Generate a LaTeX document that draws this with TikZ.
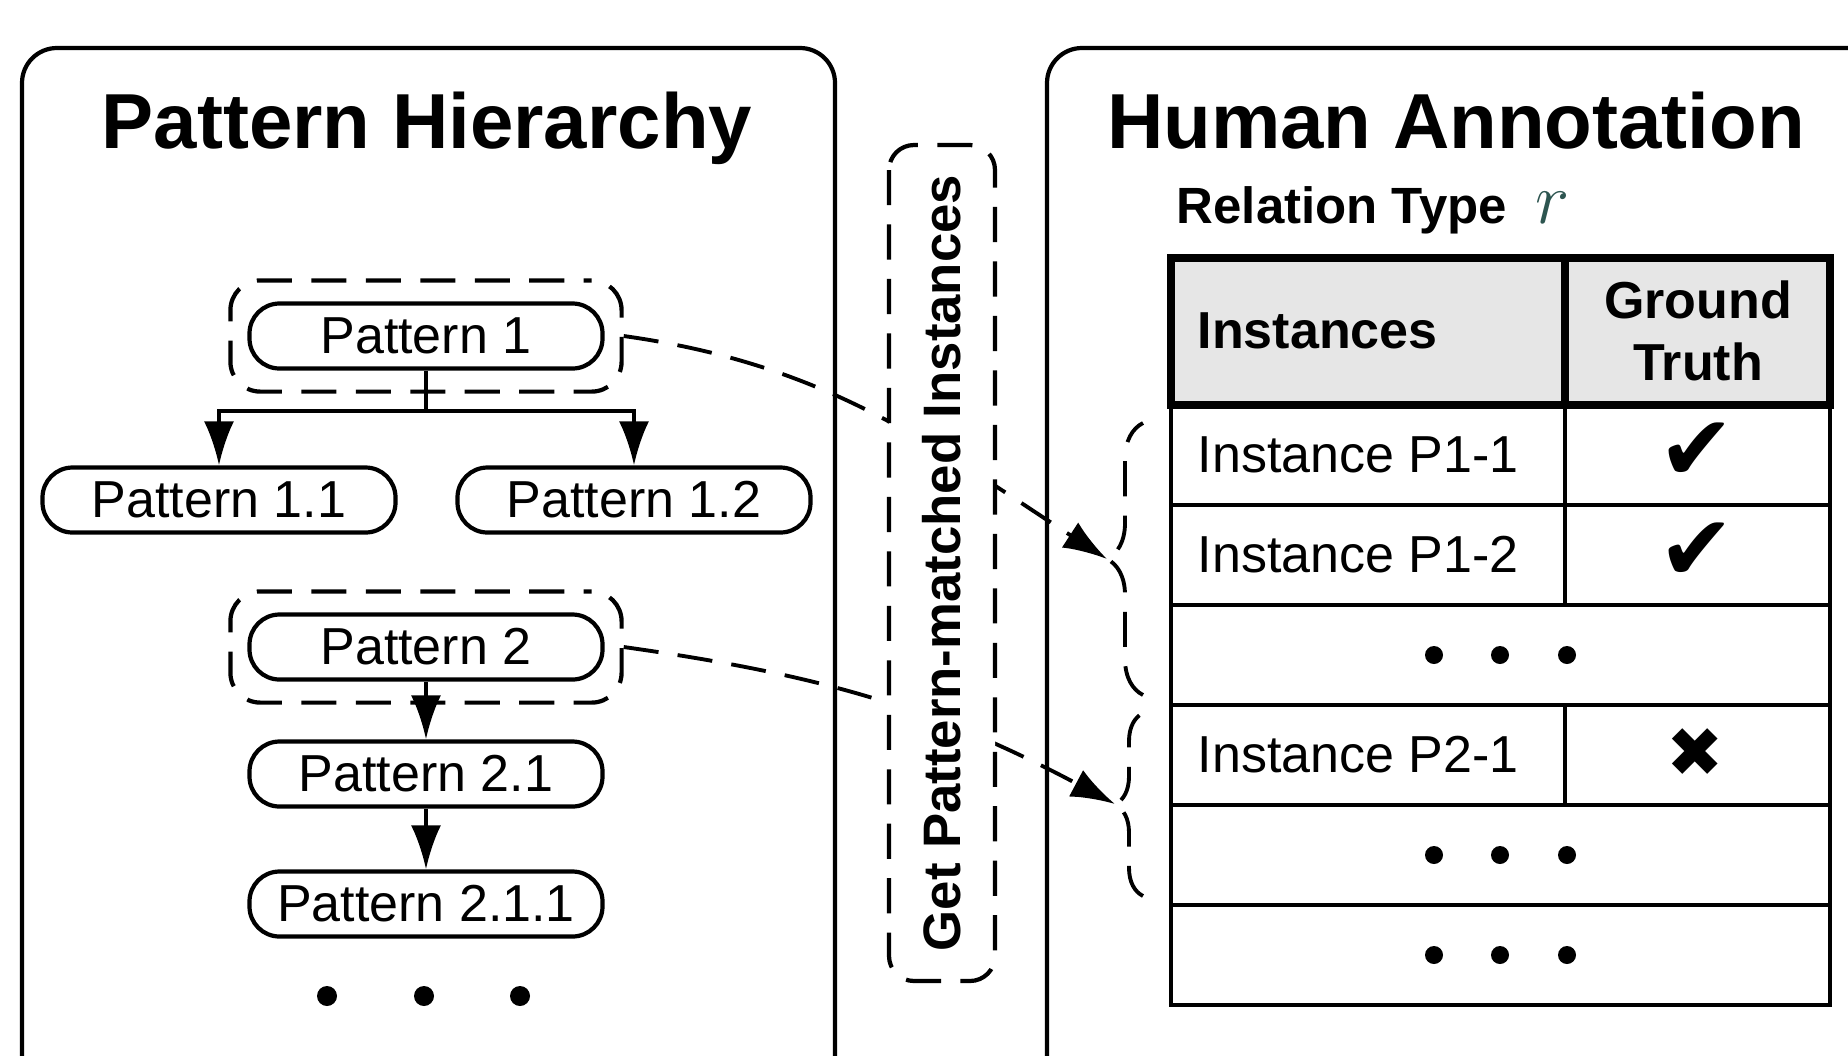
\documentclass[tikz,border=0pt]{standalone}
\usepackage{fontspec}
\setmainfont{Liberation Sans}
\newfontfamily\dejavu{DejaVu Sans}
\usetikzlibrary{arrows.meta,fit,decorations.pathreplacing}

\definecolor{headgray}{RGB}{230,230,230}
\definecolor{typeteal}{RGB}{45,85,80}

\tikzset{
    panel/.style={draw, line width=1.2pt, rounded corners=0.35cm},
    title/.style={anchor=base, font=\fontsize{22.2}{26}\selectfont\bfseries},
    patnode/.style={draw, line width=1.2pt, rounded corners=0.3cm, minimum width=3.53cm,
        minimum height=0.65cm, inner sep=0pt, font=\fontsize{14.8}{17}\selectfont},
    patgroup/.style={draw, dash pattern=on 10pt off 5.5pt, dash phase=7.75pt, line width=1.2pt,
        rounded corners=0.3cm, inner xsep=0.17cm, inner ysep=0.21cm},
    tree/.style={line width=1.1pt},
    treearrow/.style={line width=1.1pt, -{Latex[length=0.44cm,width=0.3cm]}},
    link/.style={dash pattern=on 10pt off 5.5pt, line width=1.1pt,
        -{Latex[length=0.44cm,width=0.3cm]}},
    bracedash/.style={decorate, dash pattern=on 10pt off 5.5pt, line width=1.1pt},
    midbox/.style={draw, fill=white, dash pattern=on 10pt off 5.5pt, line width=1.2pt,
        rounded corners=0.25cm, rotate=90, minimum width=8.36cm, minimum height=1.06cm,
        font=\fontsize{15}{18}\selectfont\bfseries},
    rowline/.style={line width=1.2pt},
    headline/.style={line width=2.2pt},
    entry/.style={anchor=west, inner sep=0pt, font=\fontsize{14.8}{17}\selectfont},
    headtext/.style={inner sep=0pt, font=\fontsize{14.8}{17.6}\selectfont\bfseries},
    truthsym/.style={inner sep=0pt, font=\dejavu\fontsize{26}{30}\selectfont}
}

\begin{document}
\begin{tikzpicture}
    % Canvas size
    \useasboundingbox (0,0) rectangle (18.48,10.55);

    % Draw the two panels
    \draw[panel] (0.22,-0.4) rectangle (8.35,10.07);
    \draw[panel] (10.47,-0.4) rectangle (18.95,10.07);

    % Panel titles
    \node[title] (hier) at (4.27,9.07) {Pattern Hierarchy};
    \node[title] (annot) at (14.56,9.07) {Human Annotation};
    \node[anchor=base west, inner sep=0pt, font=\fontsize{14.5}{17}\selectfont\bfseries]
        (reltype) at (11.76,8.32)
        {Relation Type\hspace{0.28cm}{\fontsize{20}{20}\selectfont\textcolor{typeteal}{$r$}}};

    % Pattern nodes
    \node[patnode] (p1) at (4.26,7.19) {Pattern 1};
    \node[patnode] (p11) at (2.19,5.55) {Pattern 1.1};
    \node[patnode] (p12) at (6.34,5.55) {Pattern 1.2};
    \node[patnode] (p2) at (4.26,4.08) {Pattern 2};
    \node[patnode] (p21) at (4.26,2.81) {Pattern 2.1};
    \node[patnode] (p211) at (4.26,1.51) {Pattern 2.1.1};

    % Tree arrows
    \coordinate (split) at (4.26,6.44);
    \draw[tree] (p1.south) -- (split);
    \draw[treearrow] (split) -| (p11.north);
    \draw[treearrow] (split) -| (p12.north);
    \draw[treearrow] (p2.south) -- (p21.north);
    \draw[treearrow] (p21.south) -- (p211.north);

    % Dashed groups round the root patterns
    \node[patgroup, fit=(p1)] (g1) {};
    \node[patgroup, fit=(p2)] (g2) {};

    % More patterns
    \foreach \x in {3.27,4.24,5.20}
        \fill (\x,0.59) circle (0.1);

    % Table body
    \foreach \y in {5.5,4.5,3.5,2.5,1.5}
        \draw[rowline] (11.71,\y) -- (18.30,\y);
    \draw[rowline] (11.71,6.5) rectangle (18.30,0.5);
    \draw[rowline] (15.65,6.5) -- (15.65,4.5);
    \draw[rowline] (15.65,3.5) -- (15.65,2.5);

    % Table header
    \draw[headline, fill=headgray] (11.71,7.97) rectangle (18.30,6.5);
    \draw[headline] (15.65,7.97) -- (15.65,6.5);
    \node[headtext, anchor=west] (colinst) at (11.97,7.24) {Instances};
    \node[headtext, align=center] (coltruth) at (16.98,7.24) {Ground\\Truth};

    % Row entries
    \foreach \y/\id in {6.0/P1-1, 5.0/P1-2, 3.0/P2-1}
        \node[entry] (inst-\id) at (11.97,\y) {Instance \id};
    \node[truthsym] (ok1) at (16.97,6.03) {✔};
    \node[truthsym] (ok2) at (16.97,5.03) {✔};
    \node[truthsym, font=\dejavu\fontsize{19.5}{22}\selectfont] (no1) at (16.95,3.02) {✖};

    % Rows left out
    \foreach \y in {4.0,2.0,1.0}
        \foreach \x in {14.34,15.00,15.67}
            \fill (\x,\y) circle (0.09);

    % Braces over the matched rows
    \draw[bracedash, decoration={brace,amplitude=0.36cm}] (11.43,3.60) -- (11.43,6.32);
    \draw[bracedash, decoration={brace,amplitude=0.28cm}] (11.43,1.59) -- (11.43,3.42);
    \coordinate (tip1) at (11.07,4.96);
    \coordinate (tip2) at (11.15,2.51);

    % Connectors from patterns to their instances
    \draw[link] (g1.east) to[out=-8,in=147] (tip1);
    \draw[link] (g2.east) to[out=-8,in=152] (tip2);

    % Middle step, drawn last so it hides the connectors
    \node[midbox] (getstep) at (9.42,4.92) {Get Pattern-matched Instances};

\end{tikzpicture}
\end{document}
